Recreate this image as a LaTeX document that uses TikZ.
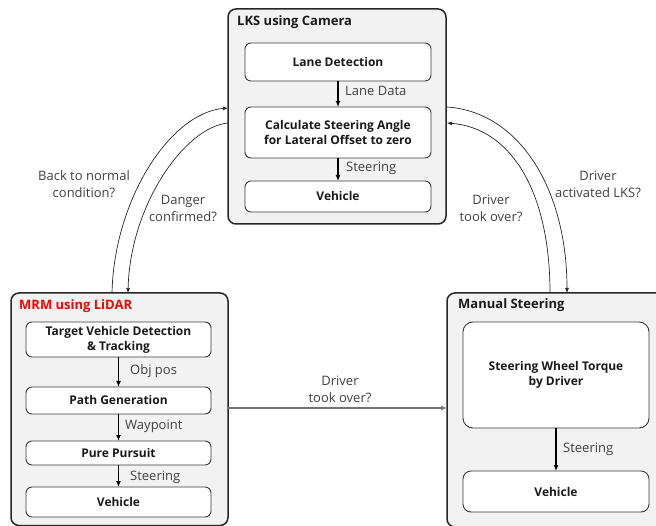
\documentclass[tikz,border=0pt]{standalone}
\usepackage{fontspec}
\setmainfont{Open Sans}
\usetikzlibrary{arrows.meta,positioning,calc}
\definecolor{contfill}{HTML}{F2F2F2}
\definecolor{contline}{HTML}{262626}
\definecolor{blkline}{HTML}{3A3A3A}
\definecolor{lbltext}{HTML}{404040}
\definecolor{blktext}{HTML}{1A1A1A}
\begin{document}
\begin{tikzpicture}[x=1pt,y=-1pt,
  cont/.style={draw=contline,fill=contfill,line width=1.5pt,rounded corners=8pt,
    anchor=north west,inner sep=0pt,outer sep=0pt},
  blk/.style={draw=blkline,fill=white,line width=0.9pt,rounded corners=6pt,
    inner sep=0pt,outer sep=0pt,minimum width=186pt,align=center,text=blktext,
    font=\fontsize{12}{15}\selectfont\bfseries},
  ttl/.style={anchor=base west,inner sep=0pt,font=\fontsize{13}{15}\selectfont\bfseries,text=blktext},
  lbl/.style={anchor=base west,inner sep=0pt,font=\fontsize{13}{17}\selectfont,text=lbltext},
  cnd/.style={inner sep=0pt,align=center,font=\fontsize{13}{17}\selectfont,text=lbltext},
  flow/.style={draw=black,line width=1.4pt,-{Latex[length=6pt,width=5pt]}},
  cond/.style={draw=black!85,line width=0.7pt,-{Latex[length=5pt,width=4pt]}}
]
\useasboundingbox (0,0) rectangle (656,526);

% containers
\node[cont,minimum width=218pt,minimum height=215pt] (lks) at (228,9) {};
\node[cont,minimum width=217pt,minimum height=232.5pt] (mrm) at (11,293) {};
\node[cont,minimum width=230pt,minimum height=234pt] (man) at (447,293) {};

\node[ttl] (tlks) at (237,26) {LKS using Camera};
\node[ttl,text=red] (tmrm) at (19,309.5) {MRM using LiDAR};
\node[ttl] (tman) at (458,308.5) {Manual Steering};

% LKS blocks
\node[blk,minimum height=38pt] (lane) at (338,62) {Lane Detection};
\node[blk,minimum height=51pt] (calc) at (338,132.5) {Calculate Steering Angle\\for Lateral Offset to zero};
\node[blk,minimum height=31pt] (veh1) at (338,196.5) {Vehicle};
\draw[flow] (lane.south) -- (calc.north);
\draw[flow] (calc.south) -- (veh1.north);
\node[lbl] (ld) at (345,96) {Lane Data};
\node[lbl] (st1) at (346,172) {Steering};

% MRM blocks
\node[blk,minimum width=185pt,minimum height=35pt] (tgt) at (118.5,339.5) {Target Vehicle Detection\\\& Tracking};
\node[blk,minimum width=185pt,minimum height=27pt] (path) at (118.5,400.5) {Path Generation};
\node[blk,minimum width=185pt,minimum height=24pt] (pp) at (118.5,453) {Pure Pursuit};
\node[blk,minimum width=185pt,minimum height=30pt] (veh2) at (118.5,502) {Vehicle};
\draw[flow] (tgt.south) -- (path.north);
\draw[flow] (path.south) -- (pp.north);
\draw[flow] (pp.south) -- (veh2.north);
\node[lbl] (op) at (130,375) {Obj pos};
\node[lbl] (wp) at (125,430) {Waypoint};
\node[lbl] (st2) at (130,480) {Steering};

% Manual blocks
\node[blk,minimum height=106pt,rounded corners=10pt] (swt) at (556,375) {Steering Wheel Torque\\by Driver};
\node[blk,minimum height=41pt,rounded corners=8pt] (veh3) at (556,491.5) {Vehicle};
\draw[flow] (swt.south) -- (veh3.north);
\node[lbl] (st3) at (563,452.5) {Steering};

% transitions
\coordinate (lo1) at (112,293);
\coordinate (lo2) at (228,108);
\coordinate (li1) at (228,123);
\coordinate (li2) at (128,293);
\coordinate (ro1) at (447,107);
\coordinate (ro2) at (567,293);
\coordinate (ri1) at (550,293);
\coordinate (ri2) at (447,123);
\draw[cond] (lo1) .. controls (114,200) and (170,113) .. (lo2);
\draw[cond] (li1) .. controls (185,127) and (130,205) .. (li2);
\draw[cond] (ro1) .. controls (520,112) and (567,190) .. (ro2);
\draw[cond] (ri1) .. controls (550,190) and (510,128) .. (ri2);
\node[cnd] (c1) at (84,184) {Back to normal\\condition?};
\node[cnd] (c2) at (183,208) {Danger\\confirmed?};
\node[cnd] (c3) at (491,208) {Driver\\took over?};
\node[cnd] (c4) at (598,184) {Driver\\activated LKS?};

\draw[draw=black!55,line width=1.3pt,-{Latex[length=6pt,width=5pt]}] (mrm.east |- 0,408) -- (man.west |- 0,408);
\node[cnd] (c5) at (340,389) {Driver\\took over?};
\end{tikzpicture}
\end{document}
